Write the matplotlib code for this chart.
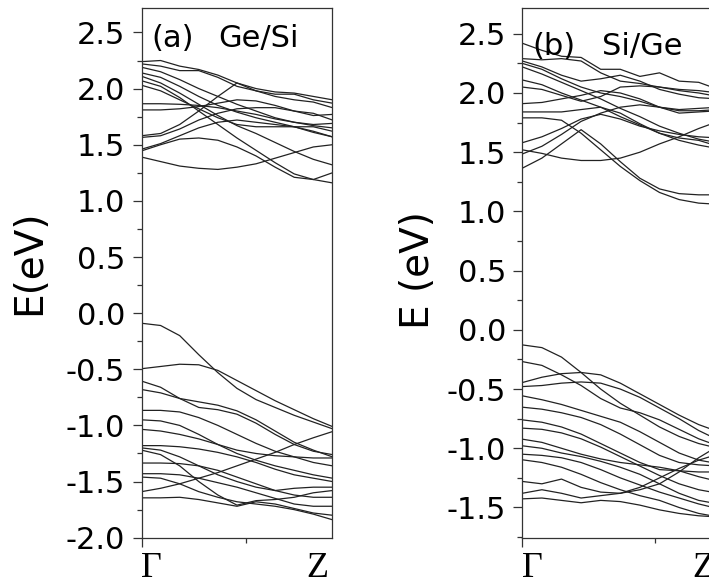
import numpy as np
import matplotlib
matplotlib.use("Agg")
import matplotlib.pyplot as plt
from matplotlib.ticker import MultipleLocator, FixedLocator, NullFormatter

plt.rcParams["axes.unicode_minus"] = False
plt.rcParams["font.family"] = ["DejaVu Sans"]

# k-path sampling from Gamma (0) to Z (1)
k = np.linspace(0.0, 1.0, 11)

# ---- (a) Ge/Si : conduction bands (eV) ----
ge_si_cond = [
    [2.24, 2.25, 2.20, 2.17, 2.12, 2.05, 2.00, 1.97, 1.96, 1.93, 1.90],
    [2.22, 2.20, 2.16, 2.16, 2.10, 2.02, 1.98, 1.95, 1.95, 1.90, 1.87],
    [2.19, 2.15, 2.08, 2.00, 1.93, 1.86, 1.80, 1.74, 1.70, 1.67, 1.65],
    [2.14, 2.10, 2.02, 1.93, 1.85, 1.79, 1.74, 1.70, 1.66, 1.62, 1.57],
    [2.11, 2.05, 1.96, 1.86, 1.76, 1.67, 1.60, 1.52, 1.44, 1.37, 1.32],
    [2.07, 2.02, 1.92, 1.80, 1.68, 1.56, 1.45, 1.34, 1.24, 1.19, 1.16],
    [2.03, 1.98, 1.90, 1.82, 1.74, 1.68, 1.66, 1.66, 1.66, 1.61, 1.57],
    [1.865, 1.865, 1.86, 1.85, 1.83, 1.80, 1.77, 1.73, 1.70, 1.68, 1.69],
    [1.81, 1.81, 1.82, 1.84, 1.87, 1.90, 1.89, 1.85, 1.80, 1.76, 1.77],
    [1.58, 1.60, 1.68, 1.80, 1.93, 2.05, 1.98, 1.93, 1.90, 1.88, 1.83],
    [1.565, 1.58, 1.64, 1.72, 1.78, 1.82, 1.83, 1.83, 1.80, 1.78, 1.72],
    [1.46, 1.51, 1.58, 1.65, 1.70, 1.72, 1.70, 1.68, 1.66, 1.66, 1.62],
    [1.445, 1.50, 1.55, 1.56, 1.54, 1.48, 1.40, 1.30, 1.21, 1.19, 1.25],
    [1.39, 1.35, 1.31, 1.29, 1.28, 1.30, 1.33, 1.38, 1.43, 1.48, 1.50],
]

# ---- (a) Ge/Si : valence bands (eV) ----
ge_si_val = [
    [-0.09, -0.11, -0.20, -0.37, -0.53, -0.67, -0.77, -0.84, -0.91, -0.97, -1.03],
    [-0.495, -0.475, -0.455, -0.46, -0.51, -0.60, -0.69, -0.78, -0.86, -0.94, -1.01],
    [-0.605, -0.66, -0.76, -0.84, -0.86, -0.90, -0.98, -1.08, -1.17, -1.23, -1.26],
    [-0.68, -0.71, -0.76, -0.79, -0.82, -0.87, -0.95, -1.05, -1.15, -1.22, -1.28],
    [-0.866, -0.866, -0.88, -0.93, -1.00, -1.08, -1.16, -1.23, -1.28, -1.33, -1.36],
    [-0.95, -0.96, -1.00, -1.08, -1.17, -1.25, -1.31, -1.36, -1.40, -1.44, -1.47],
    [-1.035, -1.05, -1.08, -1.12, -1.17, -1.22, -1.25, -1.27, -1.28, -1.29, -1.29],
    [-1.18, -1.18, -1.19, -1.21, -1.24, -1.28, -1.33, -1.39, -1.44, -1.47, -1.50],
    [-1.20, -1.22, -1.28, -1.36, -1.44, -1.50, -1.55, -1.58, -1.56, -1.55, -1.55],
    [-1.22, -1.26, -1.36, -1.50, -1.62, -1.71, -1.67, -1.66, -1.64, -1.60, -1.58],
    [-1.335, -1.335, -1.34, -1.36, -1.40, -1.46, -1.52, -1.58, -1.62, -1.64, -1.64],
    [-1.43, -1.43, -1.44, -1.47, -1.51, -1.55, -1.60, -1.65, -1.70, -1.72, -1.72],
    [-1.46, -1.47, -1.52, -1.59, -1.64, -1.68, -1.70, -1.72, -1.75, -1.79, -1.84],
    [-1.59, -1.56, -1.52, -1.47, -1.42, -1.36, -1.30, -1.24, -1.17, -1.11, -1.055],
    [-1.645, -1.645, -1.64, -1.66, -1.69, -1.72, -1.68, -1.70, -1.74, -1.78, -1.80],
]

# ---- (b) Si/Ge : conduction bands (eV) ----
si_ge_cond = [
    [2.42, 2.36, 2.31, 2.30, 2.20, 2.20, 2.14, 2.17, 2.10, 2.09, 2.03],
    [2.29, 2.28, 2.29, 2.27, 2.17, 2.10, 2.08, 2.05, 2.03, 2.02, 2.00],
    [2.27, 2.22, 2.15, 2.10, 2.12, 2.15, 2.10, 2.03, 1.99, 1.96, 1.95],
    [2.25, 2.20, 2.12, 2.05, 2.00, 1.97, 1.93, 1.88, 1.86, 1.87, 1.88],
    [2.22, 2.16, 2.09, 2.02, 1.95, 1.87, 1.80, 1.72, 1.66, 1.61, 1.58],
    [2.11, 2.07, 2.00, 1.94, 1.88, 1.80, 1.73, 1.66, 1.60, 1.56, 1.53],
    [2.05, 2.03, 1.98, 1.93, 1.97, 2.05, 2.06, 2.05, 2.02, 2.00, 1.97],
    [1.91, 1.92, 1.95, 1.98, 2.02, 2.00, 1.95, 1.88, 1.83, 1.84, 1.85],
    [1.84, 1.84, 1.84, 1.86, 1.88, 1.83, 1.74, 1.66, 1.62, 1.60, 1.55],
    [1.79, 1.79, 1.77, 1.66, 1.52, 1.38, 1.26, 1.16, 1.10, 1.07, 1.06],
    [1.58, 1.63, 1.70, 1.78, 1.82, 1.78, 1.72, 1.68, 1.65, 1.63, 1.62],
    [1.52, 1.49, 1.45, 1.43, 1.43, 1.45, 1.50, 1.57, 1.63, 1.70, 1.76],
    [1.485, 1.55, 1.65, 1.76, 1.83, 1.88, 1.90, 1.88, 1.85, 1.85, 1.86],
    [1.365, 1.45, 1.57, 1.69, 1.57, 1.42, 1.28, 1.19, 1.15, 1.14, 1.14],
]

# ---- (b) Si/Ge : valence bands (eV) ----
si_ge_val = [
    [-0.127, -0.15, -0.23, -0.36, -0.50, -0.62, -0.72, -0.82, -0.90, -0.96, -1.00],
    [-0.268, -0.30, -0.38, -0.47, -0.58, -0.66, -0.70, -0.76, -0.84, -0.92, -0.98],
    [-0.445, -0.40, -0.37, -0.36, -0.38, -0.45, -0.54, -0.63, -0.72, -0.80, -0.86],
    [-0.479, -0.47, -0.45, -0.44, -0.45, -0.50, -0.57, -0.66, -0.75, -0.85, -0.93],
    [-0.557, -0.59, -0.63, -0.68, -0.73, -0.78, -0.86, -0.95, -1.04, -1.10, -1.13],
    [-0.653, -0.67, -0.70, -0.74, -0.80, -0.88, -0.97, -1.06, -1.12, -1.14, -1.15],
    [-0.76, -0.78, -0.82, -0.88, -0.96, -1.04, -1.12, -1.18, -1.19, -1.20, -1.20],
    [-0.83, -0.84, -0.87, -0.92, -0.99, -1.07, -1.15, -1.23, -1.30, -1.35, -1.38],
    [-0.923, -0.95, -1.00, -1.05, -1.09, -1.12, -1.14, -1.16, -1.19, -1.24, -1.28],
    [-0.979, -1.00, -1.04, -1.07, -1.11, -1.16, -1.22, -1.30, -1.38, -1.44, -1.47],
    [-1.05, -1.06, -1.08, -1.12, -1.18, -1.25, -1.31, -1.37, -1.42, -1.47, -1.51],
    [-1.097, -1.12, -1.16, -1.22, -1.29, -1.35, -1.40, -1.44, -1.50, -1.55, -1.58],
    [-1.28, -1.30, -1.26, -1.33, -1.37, -1.38, -1.35, -1.30, -1.20, -1.08, -0.98],
    [-1.38, -1.35, -1.38, -1.42, -1.40, -1.38, -1.33, -1.25, -1.17, -1.10, -1.05],
    [-1.427, -1.42, -1.44, -1.46, -1.44, -1.45, -1.48, -1.52, -1.55, -1.57, -1.58],
]

panel_tags = ["(a)", "(b)"]
panel_names = ["Ge/Si", "Si/Ge"]
ylabels = ["E(eV)", "E (eV)"]
k_labels = ["\u0393", "Z"]

W, H = 709, 588
fig = plt.figure(figsize=(W / 100, H / 100), dpi=100)


def px_axes(left, right, top, bottom):
    return fig.add_axes([left / W, (H - bottom) / H, (right - left) / W, (bottom - top) / H])


ax_a = px_axes(141.5, 332.4, 8.3, 537.7)
ax_b = px_axes(522.3, 718.3, 8.3, 537.7)

line_kw = dict(color="#222222", lw=0.9, solid_joinstyle="round")

setups = [
    (ax_a, ge_si_cond + ge_si_val, (-2.0, 2.715), 0.548, (0.050, 0.927), (0.400, 0.927)),
    (ax_b, si_ge_cond + si_ge_val, (-1.755, 2.715), 0.675, (0.053, 0.912), (0.408, 0.912)),
]

for i, (ax, bands, ylim, kmid, tag_pos, name_pos) in enumerate(setups):
    for band in bands:
        ax.plot(k, band, **line_kw)
    ax.set_xlim(0, 1)
    ax.set_ylim(*ylim)
    ax.yaxis.set_major_locator(MultipleLocator(0.5))
    ax.yaxis.set_minor_locator(MultipleLocator(0.25))
    ax.xaxis.set_major_locator(FixedLocator([0.0]))
    ax.xaxis.set_minor_locator(FixedLocator([kmid]))
    ax.xaxis.set_major_formatter(NullFormatter())
    ax.yaxis.set_major_formatter(matplotlib.ticker.FormatStrFormatter("%.1f"))
    ax.tick_params(axis="both", which="major", direction="out", length=6.5,
                   width=0.9, color="#333333", labelsize=22, pad=5.2)
    ax.tick_params(axis="both", which="minor", direction="out", length=3.6,
                   width=0.9, color="#333333")
    for sp in ax.spines.values():
        sp.set_linewidth(0.9)
        sp.set_color("#333333")
    ax.text(tag_pos[0], tag_pos[1], panel_tags[i], transform=ax.transAxes,
            fontsize=22, ha="left", va="baseline")
    ax.text(name_pos[0], name_pos[1], panel_names[i], transform=ax.transAxes,
            fontsize=22, ha="left", va="baseline")
    ax.text(0.0, -0.0742, k_labels[0], transform=ax.transAxes, ha="left",
            va="baseline", fontsize=26, family="Liberation Serif")
    ax.text(0.98, -0.0742, k_labels[1], transform=ax.transAxes, ha="right",
            va="baseline", fontsize=26, family="Liberation Serif")

fig.text(29 / W, (H - 262) / H, ylabels[0], rotation=90, ha="center",
         va="center", fontsize=28)
fig.text(418 / W, (H - 270) / H, ylabels[1], rotation=90, ha="center",
         va="center", fontsize=28)

fig.savefig("out.png", dpi=100)
